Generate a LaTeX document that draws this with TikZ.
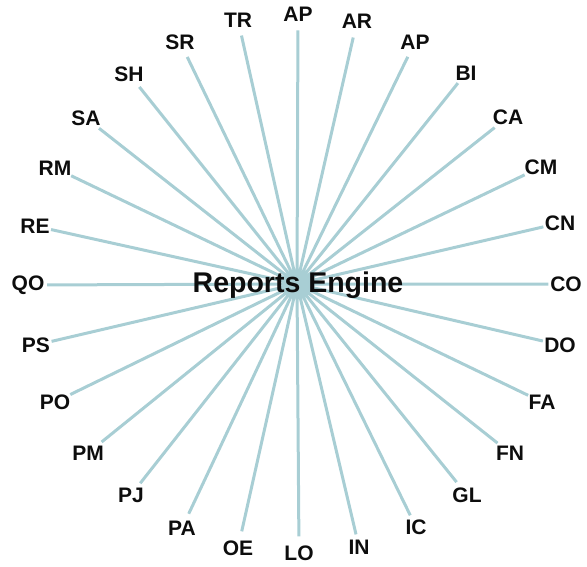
\documentclass[tikz,border=0pt]{standalone}
\usepackage{fontspec}
\setmainfont{Liberation Sans}
\definecolor{spokeblue}{RGB}{168,206,212}
\tikzstyle{module} = [circle,inner sep=0pt,text=black!95,font=\bfseries\fontsize{21}{25}\selectfont]
\tikzstyle{engine} = [inner sep=0pt,text=black!95,font=\bfseries\fontsize{28.5}{34}\selectfont]
\tikzstyle{spoke} = [-,line width=3pt,draw=spokeblue]

\begin{document}
\begin{tikzpicture}[x=1pt,y=-1pt]
  \useasboundingbox (0,0) rectangle (587,566);
  \coordinate (hub) at (297,284);
  % ring of modules, clockwise from the top
  \node[module] (ap1) at (298,14) {AP};
  \node[module] (ar) at (357,21) {AR};
  \node[module] (ap2) at (415,42) {AP};
  \node[module] (bi) at (466,73) {BI};
  \node[module] (ca) at (508,117) {CA};
  \node[module] (cm) at (541,167) {CM};
  \node[module] (cn) at (560,223) {CN};
  \node[module] (co) at (566,284) {CO};
  \node[module] (do) at (560,345) {DO};
  \node[module] (fa) at (542,402) {FA};
  \node[module] (fn) at (510,453) {FN};
  \node[module] (gl) at (467,495) {GL};
  \node[module] (ic) at (416,527) {IC};
  \node[module] (in) at (359,547) {IN};
  \node[module] (lo) at (299,553) {LO};
  \node[module] (oe) at (238,548) {OE};
  \node[module] (pa) at (182,528) {PA};
  \node[module] (pj) at (131,495) {PJ};
  \node[module] (pm) at (88,453) {PM};
  \node[module] (po) at (55,402) {PO};
  \node[module] (ps) at (36,345) {PS};
  \node[module] (qo) at (28,285) {QO};
  \node[module] (re) at (35,226) {RE};
  \node[module] (rm) at (55,168) {RM};
  \node[module] (sa) at (86,118) {SA};
  \node[module] (sh) at (129,74) {SH};
  \node[module] (sr) at (180,42) {SR};
  \node[module] (tr) at (238,20) {TR};
  % spokes
  \draw[spoke] (hub) -- (ap1) (hub) -- (ar) (hub) -- (ap2) (hub) -- (bi)
    (hub) -- (ca) (hub) -- (cm) (hub) -- (cn) (hub) -- (co)
    (hub) -- (do) (hub) -- (fa) (hub) -- (fn) (hub) -- (gl)
    (hub) -- (ic) (hub) -- (in) (hub) -- (lo) (hub) -- (oe)
    (hub) -- (pa) (hub) -- (pj) (hub) -- (pm) (hub) -- (po)
    (hub) -- (ps) (hub) -- (qo) (hub) -- (re) (hub) -- (rm)
    (hub) -- (sa) (hub) -- (sh) (hub) -- (sr) (hub) -- (tr);
  \node[engine] (engine) at (298,285) {Reports Engine};
\end{tikzpicture}
\end{document}
